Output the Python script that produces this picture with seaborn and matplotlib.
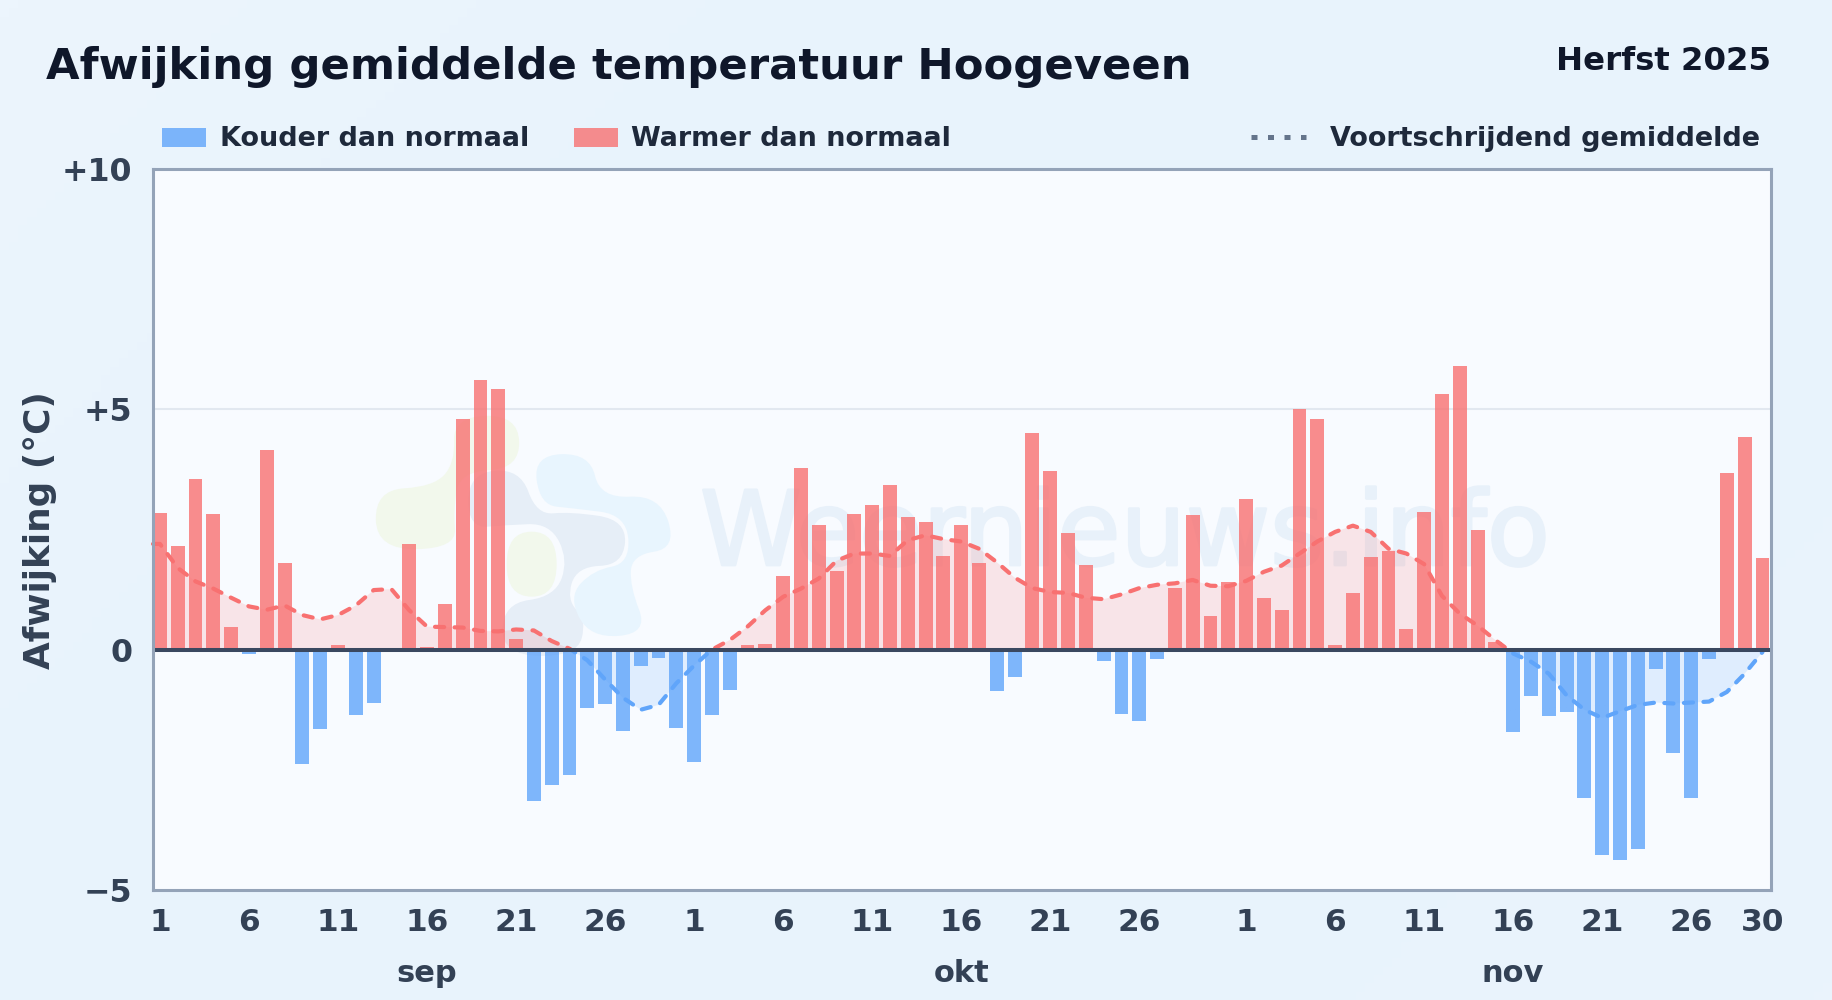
import numpy as np
import pandas as pd
import matplotlib
matplotlib.use('Agg')
import matplotlib.pyplot as plt
from matplotlib.colors import LinearSegmentedColormap
from matplotlib.patches import Patch, PathPatch, Rectangle
from matplotlib.path import Path
from matplotlib.lines import Line2D
import matplotlib.patheffects as pe
import seaborn as sb

# afwijkingen per dag
sep_waarden = [2.85, 2.15, 3.55, 2.82, 0.47, -0.1, 4.16, 1.8, -2.38, -1.65,
               0.1, -1.36, -1.1, 0.0, 2.2, 0.05, 0.95, 4.8, 5.6, 5.42,
               0.22, -3.14, -2.82, -2.6, -1.22, -1.14, -1.7, -0.35, -0.18, -1.63]
okt_waarden = [-2.34, -1.36, -0.83, 0.1, 0.12, 1.53, 3.77, 2.6, 1.63, 2.82,
               3.02, 3.43, 2.75, 2.65, 1.95, 2.6, 1.8, -0.85, -0.56, 4.5,
               3.72, 2.43, 1.77, -0.24, -1.34, -1.48, -0.19, 1.29, 2.8, 0.7, 1.4]
nov_waarden = [3.14, 1.07, 0.82, 5.0, 4.8, 0.1, 1.18, 1.93, 2.05, 0.43,
               2.87, 5.32, 5.9, 2.5, 0.15, -1.72, -0.97, -1.38, -1.3, -3.08,
               -4.27, -4.37, -4.15, -0.4, -2.15, -3.08, -0.2, 3.68, 4.42, 1.9]

# voortschrijdend gemiddelde
sep_gem = [2.2, 1.7, 1.42, 1.27, 1.08, 0.9, 0.83, 0.92, 0.72, 0.63,
           0.72, 0.92, 1.24, 1.26, 0.82, 0.48, 0.47, 0.46, 0.39, 0.38,
           0.42, 0.4, 0.18, 0.02, -0.22, -0.62, -1.0, -1.25, -1.15, -0.7]
okt_gem = [-0.33, 0.0, 0.2, 0.48, 0.82, 1.1, 1.27, 1.48, 1.85, 2.0,
           2.0, 1.95, 2.28, 2.38, 2.3, 2.25, 2.1, 1.82, 1.5, 1.28,
           1.2, 1.18, 1.08, 1.05, 1.15, 1.28, 1.35, 1.38, 1.45, 1.33, 1.32]
nov_gem = [1.43, 1.62, 1.75, 2.0, 2.25, 2.45, 2.58, 2.45, 2.1, 2.0,
           1.78, 1.12, 0.75, 0.5, 0.2, -0.08, -0.25, -0.5, -0.95, -1.25,
           -1.42, -1.28, -1.15, -1.1, -1.12, -1.1, -1.08, -0.88, -0.5, -0.05]

tick_dagen = [1, 6, 11, 16, 21, 26]
laatste_nov = 30
maanden = ['sep', 'okt', 'nov']
maand_lengte = [30, 31, 30]
y_ticks = [-5, 0, 5, 10]
y_labels = ['\u22125', '0', '+5', '+10']

BLAUW = '#60a5fa'
ROOD = '#f87171'
TEKST = '#334155'
X_MIN = -0.39
X_MAX = 90.48

waarden = sep_waarden + okt_waarden + nov_waarden
gem = np.array(sep_gem + okt_gem + nov_gem)
dag = np.arange(len(waarden))
df = pd.DataFrame({'dag': dag, 'afwijking': waarden})
df['soort'] = np.where(df['afwijking'] < 0, 'koud', 'warm')

# lijn loopt door tot aan de linker as
lijn_x = np.r_[X_MIN, dag]
lijn_y = np.r_[gem[0], gem]

plt.rcParams['font.family'] = 'DejaVu Sans'
plt.rcParams['font.weight'] = 'bold'

fig = plt.figure(figsize=(18.32, 10), dpi=100, facecolor='#e9f3fc')

# achtergrond met zachte kleurovergang
bg = fig.add_axes([0, 0, 1, 1], zorder=-1)
bg_cmap = LinearSegmentedColormap.from_list('bg', ['#ecf5fd', '#e8f3fc', '#e8f3fc', '#eaf3fc'])
xx, yy = np.meshgrid(np.linspace(0, 1, 200), np.linspace(0, 1, 120))
bg.imshow(xx * 0.65 + yy * 0.35, cmap=bg_cmap, aspect='auto', extent=(0, 1, 1, 0))
bg.axis('off')

ax = fig.add_axes([153 / 1832, 110 / 1000, 1618 / 1832, 721 / 1000])
ax.set_facecolor('#f8fbff')


def blob(ax, punten, kleur):
    # gesloten vloeiende vorm door de hoekpunten af te ronden
    p = np.array([(360 + x / 3, 400 + y / 3) for x, y in punten])
    p = np.column_stack([p[:, 0] / 1832, 1 - p[:, 1] / 1000])
    n = len(p)
    verts = [(p[0] + p[1]) / 2]
    codes = [Path.MOVETO]
    for i in range(1, n + 1):
        verts += [p[i % n], (p[i % n] + p[(i + 1) % n]) / 2]
        codes += [Path.CURVE3, Path.CURVE3]
    ax.add_patch(PathPatch(Path(verts, codes), facecolor=kleur, edgecolor='none',
                           transform=fig.transFigure, zorder=0.5))


# watermerk: logo en naam
blob(ax, [(280, 50), (475, 45), (480, 205), (300, 215), (280, 330), (290, 445), (50, 450),
          (45, 270), (220, 260), (285, 190)], '#f2f8ec')
blob(ax, [(440, 395), (590, 395), (590, 590), (440, 590)], '#f2f8ec')
blob(ax, [(325, 220), (480, 205), (530, 345), (630, 335), (800, 360), (790, 495), (650, 500),
          (620, 600), (680, 660), (650, 770), (425, 765), (430, 610), (585, 590), (625, 480),
          (570, 370), (440, 375), (325, 385)], '#e6eef7')
blob(ax, [(520, 165), (690, 160), (720, 295), (900, 285), (950, 445), (815, 465), (810, 560),
          (865, 700), (690, 715), (625, 590), (700, 510), (810, 490), (800, 345), (640, 325),
          (540, 315)], '#e8f5fe')
ax.text(1124.5 / 1832, 1 - 565 / 1000, 'Weernieuws.info', transform=fig.transFigure,
        ha='center', va='baseline', fontsize=74.2, fontweight='normal', color='#e8f1fa',
        path_effects=[pe.withStroke(linewidth=2, foreground='#e8f1fa')], zorder=0.6)

ax.axhline(5, color='#e2e8f0', lw=1.5, zorder=1)

sb.barplot(data=df, x='dag', y='afwijking', hue='soort', dodge=False, width=0.78,
           palette={'koud': BLAUW, 'warm': ROOD}, alpha=0.8, saturation=1,
           legend=False, ax=ax, zorder=2)

# vulling en lijn, rood boven nul en blauw onder nul
ax.fill_between(lijn_x, 0, lijn_y, where=lijn_y >= 0, interpolate=True, color=ROOD, alpha=0.16, lw=0, zorder=1.5)
ax.fill_between(lijn_x, 0, lijn_y, where=lijn_y <= 0, interpolate=True, color=BLAUW, alpha=0.16, lw=0, zorder=1.5)
for kleur, onder, hoogte in [(ROOD, 0, 10), (BLAUW, -5, 5)]:
    n_lijnen = len(ax.lines)
    sb.lineplot(x=lijn_x, y=lijn_y, color=kleur, lw=3.0, ax=ax, zorder=3, errorbar=None)
    lijn = ax.lines[n_lijnen]
    lijn.set_linestyle((0, (2.2, 2.5)))
    lijn.set_dash_capstyle('round')
    lijn.set_clip_path(Rectangle((-1, onder), 93, hoogte, transform=ax.transData))

ax.axhline(0, color='#3a4860', lw=2.9, zorder=4)

ax.set_xlim(X_MIN, X_MAX)
ax.set_ylim(-5, 10)

# dagen op de x-as
posities = []
labels = []
start = 0
for lengte in maand_lengte:
    for d in tick_dagen:
        posities.append(start + d - 1)
        labels.append(str(d))
    start += lengte
posities.append(len(waarden) - 1)
labels.append(str(laatste_nov))
ax.set_xticks(posities)
ax.set_xticklabels(labels)
ax.set_yticks(y_ticks)
ax.set_yticklabels(y_labels)
ax.tick_params(axis='x', length=0, labelsize=22.5, labelcolor=TEKST, pad=13)
ax.tick_params(axis='y', length=0, labelsize=22.8, labelcolor=TEKST, pad=15)
ax.set_xlabel('')
ax.set_ylabel('')

for s in ax.spines.values():
    s.set_color('#94a3b8')
    s.set_linewidth(2.2)
    s.set_zorder(5)

start = 0
for naam, lengte in zip(maanden, maand_lengte):
    ax.text(start + 15, -83 / 721, naam, transform=ax.get_xaxis_transform(),
            ha='center', va='center', fontsize=22, color=TEKST, clip_on=False)
    start += lengte

fig.text(46 / 1832, 1 - 67 / 1000, 'Afwijking gemiddelde temperatuur Hoogeveen',
         fontsize=31.2, color='#0f172a', va='center')
fig.text(1771 / 1832, 1 - 62 / 1000, 'Herfst 2025', fontsize=23.3, color='#0f172a',
         ha='right', va='center')
fig.text(40 / 1832, 1 - 530 / 1000, 'Afwijking (°C)', fontsize=25.8, color=TEKST,
         rotation=90, ha='center', va='center')

leg1 = ax.legend(handles=[Patch(color=BLAUW, alpha=0.8, lw=0, label='Kouder dan normaal'),
                          Patch(color=ROOD, alpha=0.8, lw=0, label='Warmer dan normaal')],
                 loc='center left', bbox_to_anchor=(162 / 1832, 1 - 139.5 / 1000),
                 bbox_transform=fig.transFigure, ncol=2, frameon=False, fontsize=19.45,
                 handlelength=1.63, handleheight=0.70, handletextpad=0.51,
                 columnspacing=1.65, borderpad=0, borderaxespad=0, labelcolor='#1e293b')
ax.add_artist(leg1)
ax.legend(handles=[Line2D([], [], color='#64748b', lw=3.6, ls=(0, (1.2, 2.1)),
                          label='Voortschrijdend gemiddelde')],
          loc='center right', bbox_to_anchor=(1760 / 1832, 1 - 139.5 / 1000),
          bbox_transform=fig.transFigure, frameon=False, fontsize=19.45, handlelength=2.04,
          handletextpad=0.89, borderpad=0, borderaxespad=0, labelcolor='#1e293b')

fig.savefig('out.png', dpi=100, facecolor=fig.get_facecolor())
